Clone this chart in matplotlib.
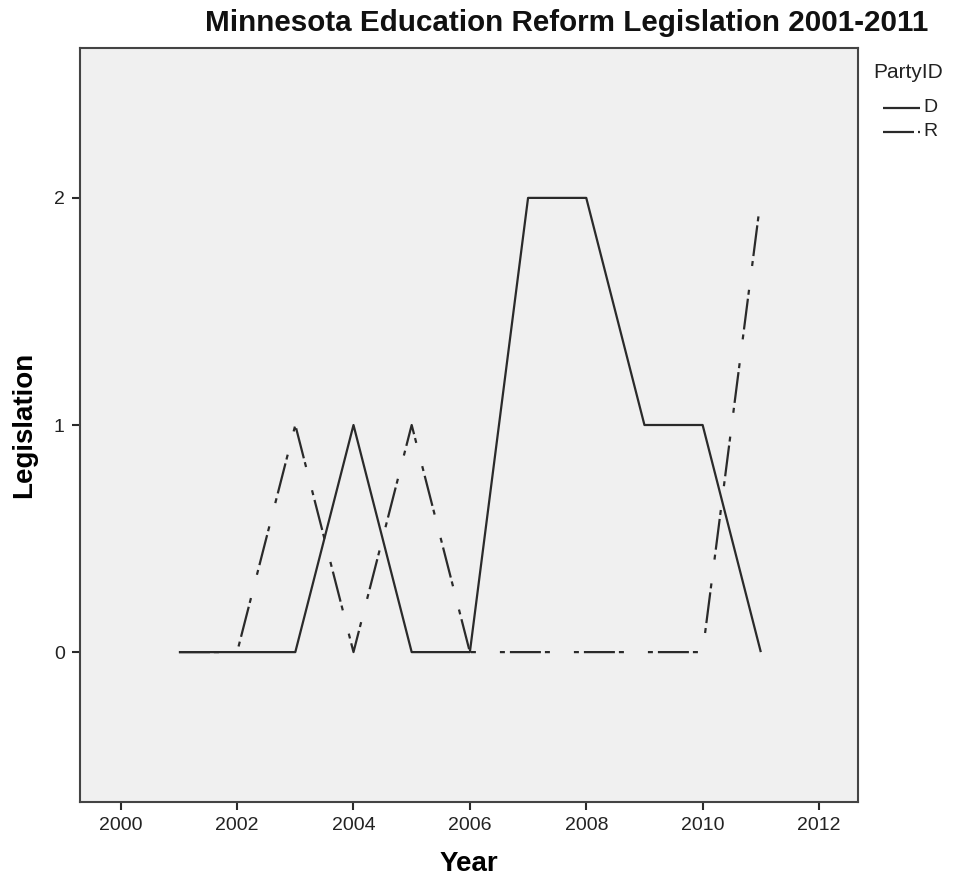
import matplotlib
matplotlib.use("Agg")
import matplotlib.pyplot as plt
from matplotlib.lines import Line2D

years = [2001, 2002, 2003, 2004, 2005, 2006, 2007, 2008, 2009, 2010, 2011]
dem = [0, 0, 0, 1, 0, 0, 2, 2, 1, 1, 0]
rep = [0, 0, 1, 0, 1, 0, 0, 0, 0, 0, 2]
xticks = [2000, 2002, 2004, 2006, 2008, 2010, 2012]
yticks = [0, 1, 2]
series_names = ['D', 'R']

plt.rcParams['font.family'] = ['Liberation Sans', 'DejaVu Sans']
plt.rcParams['lines.scale_dashes'] = False

W, H = 954, 884
fig = plt.figure(figsize=(W/100, H/100), dpi=100)
ax = fig.add_axes([80/W, 1-802/H, (858-80)/W, (802-48)/H])
ax.set_facecolor('#f0f0f0')

c = '#2a2a2a'
px = 0.72
rdash = (0, (31*px, 4*px, 5*px, 24*px, 5*px, 5*px))
styles = ['-', rdash]
ax.plot(years, dem, color=c, lw=1.6, solid_capstyle='butt')
ax.plot(years, rep, color=c, lw=1.6, linestyle=rdash, dash_capstyle='butt')

ax.set_xlim(1999.3, 2012.67)
ax.set_ylim(-0.66, 2.66)
ax.set_xticks(xticks)
ax.set_yticks(yticks)
ax.tick_params(direction='out', length=6, width=1.5, color=c, labelsize=14, labelcolor='#222222', pad=5)
for s in ax.spines.values():
    s.set_color('#444444')
    s.set_linewidth(1.5)

ax.set_xlabel('Year', fontsize=20, fontweight='bold', labelpad=12)
ax.set_ylabel('Legislation', fontsize=20, fontweight='bold', labelpad=12)
fig.text(567/W, 1-23/H, 'Minnesota Education Reform Legislation 2001-2011',
         fontsize=21.3, fontweight='bold', ha='center', va='center', color='#111111')

# legend drawn in figure coordinates
fig.text(873/W, 1-73/H, 'PartyID', fontsize=15, ha='left', va='center', color='#222222')
for i, (name, ls) in enumerate(zip(series_names, styles)):
    yy = 1 - (108 + 24*i)/H
    fig.add_artist(Line2D([883/W, 920/W], [yy, yy], transform=fig.transFigure,
                          color=c, lw=1.6, linestyle=ls, dash_capstyle='butt',
                          solid_capstyle='butt'))
    fig.text(923/W, yy, name, fontsize=14, ha='left', va='center', color='#222222')

fig.savefig('out.png', dpi=100)
